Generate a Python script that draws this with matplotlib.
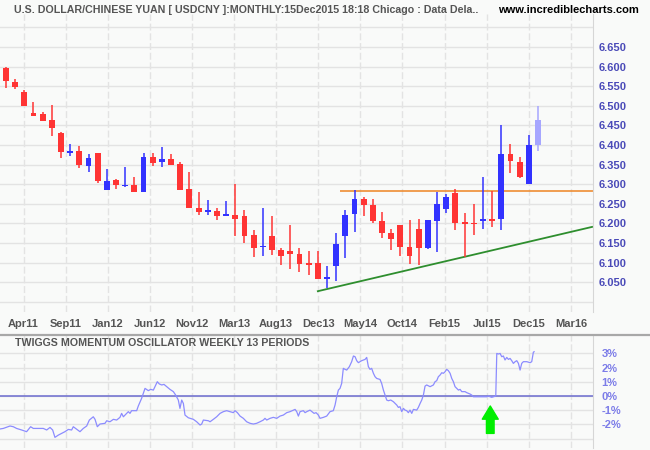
import matplotlib.pyplot as plt
from matplotlib.lines import Line2D

plt.rcParams['font.family'] = ['Liberation Sans', 'DejaVu Sans']

# monthly USD/CNY candles, Feb 2011 .. Dec 2015
opens = [6.596, 6.561, 6.535, 6.481, 6.479, 6.464, 6.430, 6.380, 6.384, 6.347,
         6.379, 6.286, 6.311, 6.295, 6.298, 6.281, 6.369, 6.357, 6.364, 6.352,
         6.288, 6.239, 6.230, 6.231, 6.219, 6.221, 6.219, 6.170, 6.139, 6.168,
         6.133, 6.129, 6.122, 6.097, 6.099, 6.058, 6.092, 6.168, 6.223, 6.262,
         6.248, 6.206, 6.175, 6.195, 6.139, 6.185, 6.136, 6.207, 6.237, 6.277,
         6.202, 6.201, 6.206, 6.208, 6.212, 6.377, 6.356, 6.300, 6.400]
highs = [6.598, 6.568, 6.540, 6.509, 6.484, 6.502, 6.433, 6.402, 6.397, 6.377,
         6.379, 6.339, 6.313, 6.344, 6.318, 6.379, 6.379, 6.395, 6.378, 6.356,
         6.331, 6.280, 6.259, 6.239, 6.257, 6.300, 6.234, 6.183, 6.239, 6.219,
         6.137, 6.196, 6.137, 6.129, 6.129, 6.091, 6.175, 6.234, 6.285, 6.267,
         6.262, 6.229, 6.185, 6.195, 6.208, 6.211, 6.208, 6.281, 6.274, 6.288,
         6.227, 6.249, 6.319, 6.282, 6.451, 6.402, 6.369, 6.425, 6.499]
lows = [6.546, 6.543, 6.499, 6.473, 6.461, 6.424, 6.367, 6.372, 6.342, 6.332,
        6.304, 6.286, 6.288, 6.292, 6.281, 6.281, 6.347, 6.344, 6.350, 6.286,
        6.240, 6.222, 6.222, 6.209, 6.219, 6.168, 6.150, 6.115, 6.117, 6.120,
        6.094, 6.083, 6.077, 6.068, 6.059, 6.034, 6.054, 6.112, 6.179, 6.219,
        6.200, 6.163, 6.133, 6.118, 6.097, 6.095, 6.135, 6.128, 6.226, 6.183,
        6.115, 6.170, 6.186, 6.191, 6.183, 6.329, 6.316, 6.300, 6.384]
closes = [6.564, 6.548, 6.500, 6.474, 6.462, 6.444, 6.383, 6.384, 6.350, 6.367,
          6.309, 6.308, 6.299, 6.298, 6.281, 6.369, 6.355, 6.364, 6.350, 6.286,
          6.240, 6.230, 6.231, 6.219, 6.221, 6.212, 6.168, 6.138, 6.142, 6.133,
          6.117, 6.122, 6.097, 6.094, 6.059, 6.061, 6.147, 6.221, 6.262, 6.248,
          6.205, 6.176, 6.161, 6.140, 6.117, 6.138, 6.208, 6.249, 6.266, 6.202,
          6.199, 6.198, 6.208, 6.206, 6.377, 6.360, 6.318, 6.400, 6.464]

month_labels = ['Apr11', 'Sep11', 'Jan12', 'Jun12', 'Nov12', 'Mar13', 'Aug13',
                'Dec13', 'May14', 'Oct14', 'Feb15', 'Jul15', 'Dec15', 'Mar16']
price_ticks = [6.05, 6.10, 6.15, 6.20, 6.25, 6.30, 6.35, 6.40, 6.45, 6.50, 6.55, 6.60, 6.65]

# resistance and rising support line
resist_level = 6.282
resist_start = 36.4
trend_x = [34.0, 63.9]
trend_y = [6.027, 6.191]

# twiggs momentum (weekly, 13 periods), x in months from Feb 2011
osc_x = [-0.65, -0.29, 0.44, 0.80, 1.16, 1.71, 2.25, 2.69, 2.98, 4.07, 4.44, 4.80, 5.09, 5.34,
         5.71, 6.07, 6.43, 6.80, 7.16, 7.34, 7.63, 8.07, 8.43, 8.80, 9.09, 9.52, 9.71, 9.96,
         10.25, 10.80, 10.98, 11.34, 11.71, 12.07, 12.43, 12.61, 12.80, 13.16, 13.34, 13.52,
         13.70, 14.25, 14.43, 14.79, 15.16, 15.52, 15.78, 16.07, 16.25, 16.50, 16.72, 16.98,
         17.23, 17.52, 17.88, 18.25, 18.50, 18.79, 18.97, 19.16, 19.34, 19.52, 19.88, 20.43,
         20.79, 21.16, 21.34, 21.52, 22.07, 22.25, 22.61, 22.97, 23.34, 23.70, 24.06, 24.43,
         24.79, 24.97, 25.23, 25.52, 25.88, 26.24, 26.61, 26.97, 27.33, 27.70, 28.06, 28.24,
         28.43, 28.79, 29.15, 29.52, 29.88, 30.24, 30.61, 30.97, 31.52, 31.70, 31.88, 32.06,
         32.42, 32.61, 32.79, 33.15, 33.59, 33.81, 34.06, 34.24, 34.61, 34.97, 35.33, 35.69,
         35.88, 36.06, 36.24, 36.42, 36.60, 36.78, 36.97, 37.15, 37.44, 37.69, 37.88, 38.06,
         38.24, 38.42, 38.78, 39.15, 39.33, 39.51, 39.69, 39.87, 40.06, 40.24, 40.42, 40.78,
         40.96, 41.15, 41.33, 41.51, 41.69, 41.95, 42.24, 42.60, 42.78, 42.96, 43.15, 43.33,
         43.51, 43.69, 43.87, 44.05, 44.24, 44.42, 44.78, 44.96, 45.15, 45.33, 45.51, 45.69,
         45.87, 46.24, 46.60, 46.78, 46.96, 47.14, 47.33, 47.51, 47.69, 47.87, 48.05, 48.23,
         48.42, 48.60, 48.78, 48.96, 49.14, 49.33, 49.51, 49.69, 50.05, 50.23, 50.60, 50.78,
         50.96, 51.69, 52.42, 52.60, 52.78, 52.96, 53.14, 53.40, 53.51, 53.69, 53.87, 54.05,
         54.23, 54.41, 54.60, 54.78, 54.96, 55.14, 55.32, 55.51, 55.69, 55.87, 56.05, 56.23,
         56.41, 56.78, 57.14, 57.32, 57.50, 57.58]
osc_val = [-2.32, -2.28, -2.11, -2.16, -2.28, -2.39, -2.51, -2.16, -2.28, -2.28, -2.39, -2.21, -2.39, -2.91,
           -2.75, -2.63, -2.51, -2.35, -2.39, -2.16, -2.30, -2.51, -2.28, -2.11, -1.69, -1.46, -1.64, -2.16,
           -1.97, -1.92, -1.74, -1.81, -1.64, -1.69, -1.50, -1.22, -1.46, -1.22, -1.10, -1.22,
           -1.03, -1.03, -0.70, -0.16, 0.54, 0.38, 0.47, 0.42, 0.66, 1.01, 0.85, 0.78,
           0.82, 0.66, 0.47, 0.31, 0.07, -0.28, -0.87, -0.28, -0.52, -1.34, -1.53, -1.64,
           -1.81, -2.04, -1.97, -1.69, -1.74, -1.81, -1.64, -1.46, -1.22, -1.10, -1.03, -1.10,
           -1.17, -1.03, -1.17, -1.41, -1.57, -1.81, -1.92, -1.97, -1.92, -1.81, -1.69, -1.57,
           -1.69, -1.57, -1.50, -1.57, -1.41, -1.34, -1.17, -1.10, -0.94, -1.10, -1.41, -1.10,
           -1.03, -1.17, -1.10, -0.99, -1.22, -1.17, -1.34, -1.57, -1.50, -1.41, -1.10, -1.03,
           -0.63, -0.05, 0.42, 0.54, 0.89, 1.95, 1.88, 1.83, 2.07, 2.42, 2.82, 2.77,
           2.49, 2.35, 2.49, 2.58, 2.72, 2.07, 1.88, 1.95, 1.60, 1.36, 1.24, 1.17,
           0.89, 0.42, 0.07, -0.28, -0.33, -0.28, -0.40, -0.63, -0.80, -0.75, -1.10, -0.87,
           -0.99, -1.03, -1.17, -0.99, -1.22, -0.94, -0.99, -0.80, -0.52, -0.28, 0.07, 0.70,
           0.78, 0.66, 0.78, 1.01, 1.08, 1.36, 1.48, 1.64, 1.60, 1.71, 1.88, 1.79,
           1.60, 1.24, 1.01, 0.66, 0.54, 0.42, 0.47, 0.31, 0.31, 0.24, 0.14, 0.07,
           -0.05, -0.05, -0.05, 0.00, -0.05, -0.09, -0.05, 0.00, 3.00, 2.96, 3.00, 2.77,
           2.82, 2.54, 2.72, 2.58, 2.65, 2.49, 2.30, 2.42, 2.49, 2.30, 1.83, 2.30,
           2.42, 2.42, 2.35, 2.42, 3.09, 3.12]
osc_ticks = [-3, -2, -1, 0, 1, 2, 3]
signal_x = 52.8
signal_tip = -0.70
signal_base = -2.63

bg = '#f9faf9'
grid_c = '#e3e3e3'
xlim = (-0.65, 64.0)
tick_pos = [1.92 + 4.59 * k for k in range(len(month_labels))]

fig = plt.figure(figsize=(6.5, 4.5), dpi=100, facecolor=bg)
ax = fig.add_axes([0.0, 0.3067, 0.9123, 0.6622], facecolor=bg)
ax2 = fig.add_axes([0.0, 0.0044, 0.9123, 0.2512], facecolor=bg)

# candles
n = len(opens)
for i in range(n):
    o, h, l, c = opens[i], highs[i], lows[i], closes[i]
    if i == n - 1:
        col = '#a6a6ff'
    elif c > o:
        col = '#3232ff'
    else:
        col = '#ff3434'
    ax.vlines(i, l, h, color=col, lw=1.1, zorder=3)
    ax.bar(i, max(abs(c - o), 0.004), bottom=min(o, c), width=0.64, color=col,
           edgecolor='none', zorder=4)

ax.hlines(resist_level, resist_start, xlim[1], color='#ee8422', lw=1.1, zorder=2)
ax.plot(trend_x, trend_y, color='#2e8e2e', lw=1.3, zorder=2)

ax.set_xlim(*xlim)
ax.set_ylim(5.974, 6.734)
ax.set_xticks(tick_pos)
ax.set_xticklabels(month_labels)
ax.yaxis.tick_right()
ax.set_yticks(price_ticks + [6.0, 6.7])
ax.set_yticklabels(['%.3f' % p for p in price_ticks] + ['', ''])
ax.tick_params(axis='x', length=0, pad=5, labelsize=8, labelcolor='#555555')
ax.tick_params(axis='y', length=0, pad=4, labelsize=8, labelcolor='#4a4ab8')
for t in ax.get_xticklabels() + ax.get_yticklabels():
    t.set_fontweight('bold')
ax.grid(axis='y', color=grid_c, lw=1.0)
ax.grid(axis='x', color=grid_c, lw=1.0, linestyle=(0, (5, 2)))
ax.set_axisbelow(True)
for s in ['top', 'left', 'bottom']:
    ax.spines[s].set_visible(False)
ax.spines['right'].set_color('#d6d6d6')

fig.text(0.022, 0.978, 'U.S. DOLLAR/CHINESE YUAN [ USDCNY ]:MONTHLY:15Dec2015 18:18 Chicago : Data Dela..',
         fontsize=7.7, fontweight='bold', color='#555555', va='center', ha='left')
fig.text(0.983, 0.978, 'www.incrediblecharts.com', fontsize=8, fontweight='bold',
         color='black', va='center', ha='right')

# oscillator
ax2.plot(osc_x, osc_val, color='#8c8cff', lw=0.9, zorder=3)
ax2.axhline(0, color='#6b6bcf', lw=1.1, zorder=2)
ax2.annotate('', xy=(signal_x, signal_tip), xytext=(signal_x, signal_base),
             arrowprops=dict(arrowstyle='simple,head_length=0.95,head_width=1.15,tail_width=0.55',
                             color='#00ee00', shrinkA=0, shrinkB=0), zorder=5)
ax2.set_xlim(*xlim)
ax2.set_ylim(-3.66, 4.30)
ax2.set_xticks(tick_pos)
ax2.set_xticklabels([])
ax2.yaxis.tick_right()
ax2.set_yticks(osc_ticks)
ax2.set_yticklabels(['' if v == -3 else '%d%%' % v for v in osc_ticks])
ax2.tick_params(axis='x', length=0)
ax2.tick_params(axis='y', length=0, pad=6, labelsize=8, labelcolor='#7c7ce8')
for t in ax2.get_yticklabels():
    t.set_fontweight('bold')
ax2.grid(axis='y', color=grid_c, lw=1.0)
ax2.grid(axis='x', color=grid_c, lw=1.0, linestyle=(0, (5, 2)))
ax2.set_axisbelow(True)
for s in ['top', 'left', 'bottom']:
    ax2.spines[s].set_visible(False)
ax2.spines['right'].set_color('#d6d6d6')
ax2.text(0.025, 0.93, 'TWIGGS MOMENTUM OSCILLATOR WEEKLY 13 PERIODS', transform=ax2.transAxes,
         fontsize=7.7, fontweight='bold', color='#555555', va='center', ha='left')

fig.add_artist(Line2D([0, 1], [0.2556, 0.2556], transform=fig.transFigure,
                      color='#a8a8a8', lw=1.6))

fig.savefig('out.png', dpi=100, facecolor=bg)
